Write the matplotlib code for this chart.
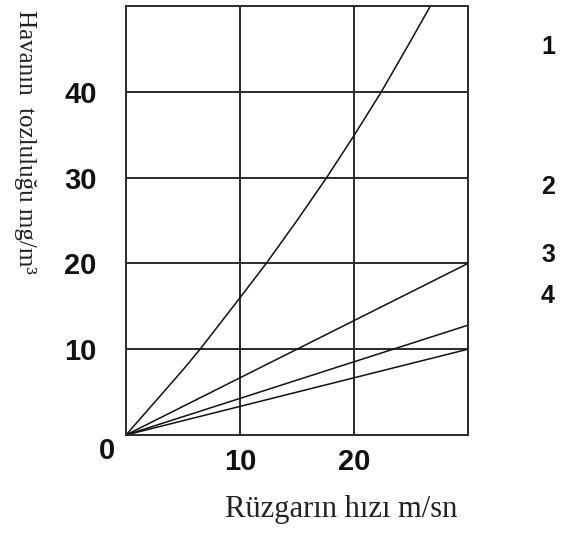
import matplotlib
matplotlib.use("Agg")
import matplotlib.pyplot as plt

# Wind speed (m/s) vs. airborne dust concentration (mg/m^3)
speed_1 = [0, 5, 6.5, 10, 12.3, 15, 17.6, 20, 22.4, 25, 26.7]
dust_1 = [0, 7.6, 10, 16, 20, 25, 30, 34.9, 40, 46, 50]

speed_lin = [0, 30]
dust_2 = [0, 20]
dust_3 = [0, 12.8]
dust_4 = [0, 10]

x_ticks = [10, 20]
y_ticks = [10, 20, 30, 40]
curve_ids = ["1", "2", "3", "4"]

W, H = 566, 534
fig = plt.figure(figsize=(W / 100, H / 100), dpi=100)
ax = fig.add_axes([126 / W, 1 - 435 / H, 342 / W, 429 / H])

ax.set_xlim(0, 30)
ax.set_ylim(0, 50)

line_kw = dict(color="#111111", lw=1.1, solid_capstyle="round")
ax.plot(speed_1, dust_1, **line_kw)
ax.plot(speed_lin, dust_2, **line_kw)
ax.plot(speed_lin, dust_3, **line_kw)
ax.plot(speed_lin, dust_4, **line_kw)

ax.set_xticks(x_ticks)
ax.set_yticks(y_ticks)
ax.grid(True, color="#2a2a2a", lw=1.4)
ax.set_axisbelow(True)
for s in ax.spines.values():
    s.set_color("#2a2a2a")
    s.set_linewidth(1.4)

tick_font = dict(family="Liberation Sans", weight="bold", size=21)
ax.set_xticklabels([str(v) for v in x_ticks], **tick_font)
ax.set_yticklabels([str(v) for v in y_ticks], **tick_font)
ax.tick_params(axis="x", length=0, pad=9, colors="#111111")
ax.tick_params(axis="y", length=0, pad=21, colors="#111111")

# shared origin label
fig.text(107 / W, 1 - 451 / H, "0", ha="center", va="center", color="#111111", **tick_font)

serif = dict(family="Liberation Serif", color="#222222")
fig.text(25 / W, 1 - 142 / H, "Havanın  tozluluğu mg/m³", rotation=-90,
         ha="center", va="center", size=18, **serif)
fig.text(341 / W, 1 - 510 / H, "Rüzgarın hızı m/sn", ha="center", va="center",
         size=22, **serif)

for lab, yp in zip(curve_ids, [47, 187, 255, 296]):
    fig.text(548 / W, 1 - yp / H, lab, ha="center", va="center",
             family="Liberation Sans", weight="bold", size=18, color="#111111")

fig.savefig("out.png", dpi=100, facecolor="white")
